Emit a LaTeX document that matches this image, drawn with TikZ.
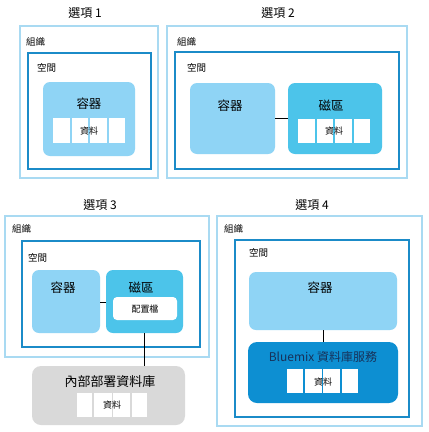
\documentclass[tikz,border=0pt]{standalone}
\usepackage{fontspec}
\setmainfont{Noto Sans CJK TC}
\definecolor{orgc}{HTML}{A9DAF2}
\definecolor{spacec}{HTML}{1B8BC8}
\definecolor{contc}{HTML}{8FD4F5}
\definecolor{volc}{HTML}{4CC4EA}
\definecolor{dbc}{HTML}{0D8FD2}
\definecolor{grayc}{HTML}{D9D9D9}
\definecolor{navy}{HTML}{17325A}
\tikzset{
  orgbox/.style={draw=orgc, line width=2pt},
  spacebox/.style={draw=spacec, line width=2pt},
  contbox/.style={fill=contc, rounded corners=7pt},
  volbox/.style={fill=volc, rounded corners=7pt},
  dbbox/.style={fill=dbc, rounded corners=9pt},
  graybox/.style={fill=grayc, rounded corners=9pt},
  cell/.style={fill=white},
  lbl/.style={font=\fontsize{9.5}{11}\selectfont, anchor=west, inner sep=0pt},
  ttl/.style={font=\fontsize{12}{14}\selectfont, inner sep=0pt},
  big/.style={font=\fontsize{12.5}{14}\selectfont, inner sep=0pt},
  small/.style={font=\fontsize{9}{10}\selectfont, inner sep=0pt},
  conn/.style={draw=black, line width=1pt}
}
\begin{document}
\begin{tikzpicture}[x=1pt,y=-1pt]
\useasboundingbox (0,0) rectangle (429,432);
\fill[white] (0,0) rectangle (429,432);

% ---------- Option 1 ----------
\node[ttl] (t1) at (85,13) {選項 1};
\draw[orgbox] (20,26) rectangle (158,178);
\node[lbl] (o1) at (26,42) {組織};
\draw[spacebox] (28,53) rectangle (151,169);
\node[lbl] (s1) at (37,68) {空間};
\path[contbox] (43,82) rectangle (135,156);
\node[big] (c1) at (89,104) {容器};
\fill[cell] (53,118) rectangle (70,143);
\fill[cell] (72,118) rectangle (88,143);
\fill[cell] (90,118) rectangle (107,143);
\fill[cell] (109,118) rectangle (125,143);
\node[small] (d1) at (89,131) {資料};

% ---------- Option 2 ----------
\node[ttl] (t2) at (278,13) {選項 2};
\draw[orgbox] (167,26) rectangle (407,178);
\node[lbl] (o2) at (177,42) {組織};
\draw[spacebox] (175,52) rectangle (399,169);
\node[lbl] (s2) at (187,68) {空間};
\path[contbox] (190,83) rectangle (275,154);
\node[big] (c2) at (230,106) {容器};
\path[volbox] (288,83) rectangle (382,154);
\node[big] (v2) at (331,106) {磁區};
\coordinate (c2r) at (275,118);
\coordinate (v2l) at (288,118);
\draw[conn] (c2r) -- (v2l);
\fill[cell] (298,119) rectangle (315,143);
\fill[cell] (317,119) rectangle (333,143);
\fill[cell] (335,119) rectangle (352,143);
\fill[cell] (354,119) rectangle (370,143);
\node[small] (d2) at (334,131) {資料};

% ---------- Option 3 ----------
\node[ttl] (t3) at (100,205) {選項 3};
\draw[orgbox] (5,216) rectangle (209,357);
\node[lbl] (o3) at (12,229) {組織};
\draw[spacebox] (22,241) rectangle (200,347);
\node[lbl] (s3) at (28,258) {空間};
\path[contbox] (32,270) rectangle (100,333);
\node[big] (c3) at (63,288) {容器};
\path[volbox] (106,270) rectangle (183,333);
\node[big] (v3) at (141,288) {磁區};
\coordinate (c3r) at (100,302);
\coordinate (v3l) at (106,302);
\draw[conn] (c3r) -- (v3l);
\fill[white, rounded corners=4pt] (113,297) rectangle (177,320);
\node[small] (p3) at (145,309) {配置檔};
\path[graybox] (32,366) rectangle (185,425);
\node[font=\fontsize{13}{15}\selectfont, inner sep=0pt] (g3) at (110,382) {內部部署資料庫};
\coordinate (v3b) at (144,333);
\coordinate (g3t) at (144,366);
\draw[conn] (v3b) -- (g3t);
\fill[cell] (77,393) rectangle (92,417);
\fill[cell] (94,393) rectangle (112,417);
\fill[cell] (113,393) rectangle (130,417);
\fill[cell] (132,393) rectangle (147,417);
\node[small] (d3) at (112,405) {資料};

% ---------- Option 4 ----------
\node[ttl] (t4) at (312,205) {選項 4};
\draw[orgbox] (217,216) rectangle (422,426);
\node[lbl] (o4) at (224,229) {組織};
\draw[spacebox] (235,240) rectangle (409,417);
\node[lbl] (s4) at (249,253) {空間};
\path[contbox] (249,272) rectangle (397,330);
\node[big] (c4) at (320,288) {容器};
\path[dbbox] (248,342) rectangle (398,403);
\node[font=\fontsize{12}{14}\selectfont, inner sep=0pt, text=navy] (b4) at (323,357) {Bluemix 資料庫服務};
\coordinate (c4b) at (323,330);
\coordinate (b4t) at (323,342);
\draw[conn] (c4b) -- (b4t);
\fill[cell] (287,369) rectangle (303,393);
\fill[cell] (305,369) rectangle (322,393);
\fill[cell] (323,369) rectangle (340,393);
\fill[cell] (342,369) rectangle (358,393);
\node[small] (d4) at (323,382) {資料};
\end{tikzpicture}
\end{document}
